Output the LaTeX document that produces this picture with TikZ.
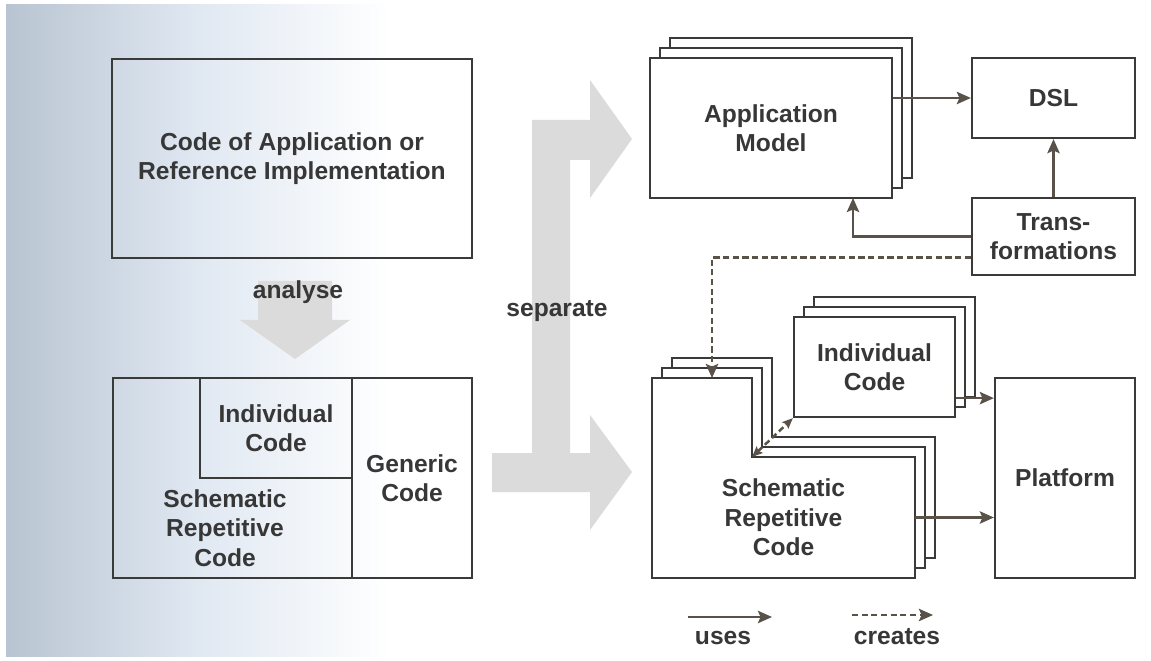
\documentclass[tikz,border=0pt]{standalone}
\usepackage{fontspec}
\setmainfont{Liberation Sans}
\usepackage{tikz}
\usetikzlibrary{arrows.meta, calc}
\definecolor{trait}{RGB}{58,58,56}
\definecolor{fleche}{RGB}{88,82,72}
\definecolor{grisclair}{RGB}{219,219,219}
\definecolor{texte}{RGB}{55,55,55}
\definecolor{fondbleu}{RGB}{184,196,209}
\definecolor{fondmilieu}{RGB}{224,232,242}

\begin{document}
\begin{tikzpicture}[x=0.02cm, y=-0.02cm,
    box/.style={draw=trait, line width=1.3pt, fill=white, inner sep=0pt},
    lbl/.style={font=\fontsize{14}{16.8}\selectfont\bfseries, text=texte, align=center},
    uses/.style={draw=fleche, line width=1.4pt, -{Stealth[length=8pt, width=7pt, inset=1.5pt]}},
    creates/.style={uses, dash pattern=on 3.5pt off 2pt}]

    \useasboundingbox (0,0) rectangle (1151,661);

    % Fond degrade a gauche
    \fill[white] (0,0) rectangle (1151,661);
    \shade[left color=fondbleu, right color=white, middle color=fondmilieu]
      (6,5) rectangle (390,656);

    % Code de depart
    \node[box, fill=none, lbl, minimum width=7.2cm, minimum height=3.98cm] (codeapp)
      at (292,158.5) {Code of Application or\\Reference Implementation};

    % Fleche analyse
    \fill[grisclair] (258,281) -- (332,281) -- (332,320) -- (350,320)
      -- (295,359) -- (240,320) -- (258,320) -- cycle;
    \node[lbl] (analyse) at (298,292) {analyse};

    % Code decoupe
    \node[box, fill=none, minimum width=7.18cm, minimum height=4cm] (split)
      at (292.5,478) {};
    \node[box, fill=none, lbl, minimum width=3.04cm, minimum height=2cm] (indleft)
      at (276,428) {Individual\\Code};
    \node[box, fill=none, lbl, minimum width=2.4cm, minimum height=4cm] (generic)
      at (412,478) {Generic\\Code};
    \node[lbl] (schleft) at (225,528) {Schematic\\Repetitive\\Code};

    % Fleche separate
    \fill[grisclair] (492,453) -- (532,453) -- (532,120) -- (590,120)
      -- (590,80) -- (632,139) -- (590,198) -- (590,160) -- (570,160)
      -- (570,453) -- (590,453) -- (590,415) -- (632,472) -- (590,530)
      -- (590,492) -- (492,492) -- cycle;
    \node[lbl] (separate) at (557,311) {separate};

    % Pile du modele
    \foreach \d in {20,10} {
      \node[box, minimum width=4.84cm, minimum height=2.8cm]
        at (771+\d,128-\d) {};
    }
    \node[box, lbl, minimum width=4.84cm, minimum height=2.8cm] (appmodel)
      at (771,128) {Application\\Model};

    \node[box, lbl, minimum width=3.26cm, minimum height=1.6cm] (dsl)
      at (1053.5,98) {DSL};
    \node[box, lbl, minimum width=3.26cm, minimum height=1.54cm] (trans)
      at (1053.5,236.5) {Trans-\\formations};
    \node[box, lbl, minimum width=2.8cm, minimum height=4cm] (platform)
      at (1065,478) {Platform};

    % Pile du code schematique (forme en L)
    \foreach \d in {20,10,0} {
      \draw[box, shift={(\d,-\d)}] (652,378) -- (752,378) -- (752,457)
        -- (915,457) -- (915,578) -- (652,578) -- cycle;
    }
    \node[lbl, minimum width=5.26cm, minimum height=2.42cm] (srcode)
      at (783.5,517.5) {Schematic\\Repetitive\\Code};
    \coordinate (srcorner) at (752,457);
    \coordinate (srtop) at (712,378);

    % Pile du code individuel
    \foreach \d in {20,10} {
      \node[box, minimum width=3.22cm, minimum height=2cm]
        at (874.5+\d,367-\d) {};
    }
    \node[box, lbl, minimum width=3.22cm, minimum height=2cm] (indiv)
      at (874.5,367) {Individual\\Code};

    % Liens
    \coordinate (amfoot) at (853,198);
    \coordinate (ipout) at ($(indiv.south east)+(0,-20)$);
    \draw[uses] (appmodel.east |- dsl.west) -- (dsl.west);
    \draw[uses] (trans) -- (dsl);
    \draw[uses] (trans.west) -| (amfoot);
    \draw[creates] ($(trans.west)+(0,21)$) -| (srtop);
    \draw[creates, {Stealth[length=6pt, width=5pt, inset=1pt]}-{Stealth[length=6pt, width=5pt, inset=1pt]}]
      (srcorner) -- (indiv.south west);
    \draw[uses] (ipout) -- (ipout -| platform.west);
    \draw[uses] (srcode.east) -- (srcode.east -| platform.west);

    % Legende
    \coordinate (usesA) at (688,617);
    \coordinate (usesB) at (772,617);
    \coordinate (createsA) at (852,615);
    \coordinate (createsB) at (933,615);
    \draw[uses] (usesA) -- (usesB);
    \draw[creates] (createsA) -- (createsB);
    \node[lbl] (lguses) at (723,638) {uses};
    \node[lbl] (lgcreates) at (897,637) {creates};

\end{tikzpicture}
\end{document}
